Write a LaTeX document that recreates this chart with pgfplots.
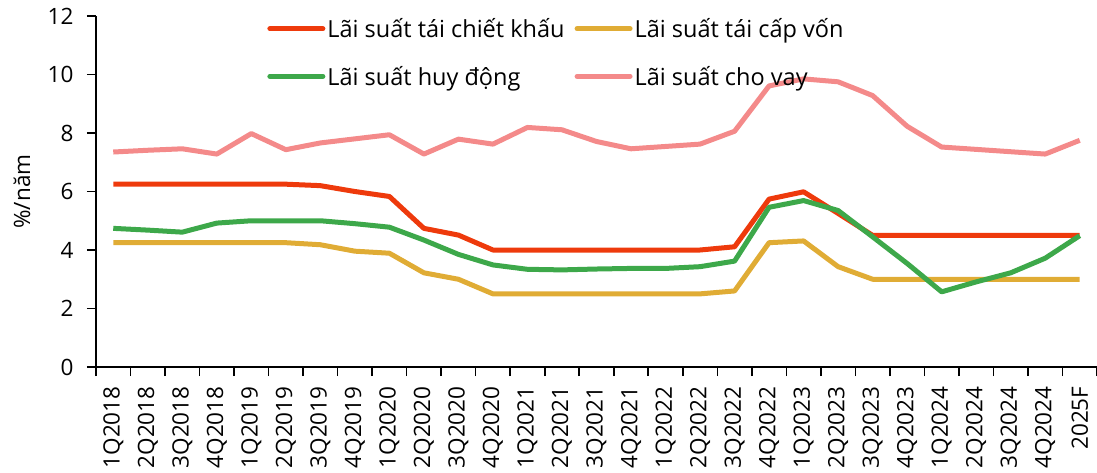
\documentclass[border=0pt]{standalone}
\usepackage{pgfplots}
\pgfplotsset{compat=1.18}
\usepackage{fontspec}
\setmainfont{Open Sans}
\definecolor{cred}{HTML}{EE3A0C}
\definecolor{cyel}{HTML}{E0AC35}
\definecolor{cgrn}{HTML}{3DA84A}
\definecolor{cpnk}{HTML}{F48A8A}
\begin{document}
\begin{tikzpicture}
\useasboundingbox (-96pt,-105pt) rectangle (1001pt,367pt);
\begin{axis}[
  scale only axis,
  width=1001pt, height=351pt,
  xmin=-0.5, xmax=28.5, ymin=0, ymax=12,
  axis x line*=bottom, axis y line*=left,
  axis line style={line width=1.6pt,-},
  ytick={0,2,...,12},
  xtick={0,...,28},
  xticklabels={1Q2018,2Q2018,3Q2018,4Q2018,1Q2019,2Q2019,3Q2019,4Q2019,1Q2020,2Q2020,3Q2020,4Q2020,1Q2021,2Q2021,3Q2021,4Q2021,1Q2022,2Q2022,3Q2022,4Q2022,1Q2023,2Q2023,3Q2023,4Q2023,1Q2024,2Q2024,3Q2024,4Q2024,2025F},
  minor xtick={-0.5,0.5,...,28.5},
  tick align=outside,
  major x tick style={draw=none},
  minor tick length=9pt, major tick length=9pt,
  tick style={line width=1.6pt, black},
  x tick label style={rotate=90, anchor=east, xshift=-7pt, font=\fontsize{22.5}{26}\selectfont},
  y tick label style={xshift=-10pt, font=\fontsize{22.5}{26}\selectfont},
  /pgf/number format/assume math mode=true,
  ylabel={\%/năm},
  ylabel style={at={(axis description cs:-0.074,0.5)}, anchor=center, font=\fontsize{22.5}{26}\selectfont},
  legend columns=2,
  legend cell align=left,
  legend style={draw=none, fill=none, at={(0.168,1.005)}, anchor=north west,
    font=\fontsize{23.5}{27}\selectfont,
    /tikz/every even column/.append style={column sep=8pt},
    row sep=23pt},
  legend image code/.code={\draw[#1, line cap=round] (0pt,0pt) -- (53pt,0pt);},
  every axis plot/.append style={line width=5pt, line join=round},
]
\addplot[cred] coordinates {(0,6.25)(1,6.25)(2,6.25)(3,6.25)(4,6.25)(5,6.25)(6,6.2)(7,6.0)(8,5.83)(9,4.74)(10,4.51)(11,4.0)(12,4.0)(13,4.0)(14,4.0)(15,4.0)(16,4.0)(17,4.0)(18,4.11)(19,5.74)(20,5.99)(21,5.25)(22,4.5)(23,4.5)(24,4.5)(25,4.5)(26,4.5)(27,4.5)(28,4.5)};
\addlegendentry{Lãi suất tái chiết khấu}
\addplot[cyel] coordinates {(0,4.25)(1,4.25)(2,4.25)(3,4.25)(4,4.25)(5,4.25)(6,4.18)(7,3.96)(8,3.89)(9,3.22)(10,3.0)(11,2.5)(12,2.5)(13,2.5)(14,2.5)(15,2.5)(16,2.5)(17,2.5)(18,2.6)(19,4.25)(20,4.31)(21,3.43)(22,3.0)(23,3.0)(24,3.0)(25,3.0)(26,3.0)(27,3.0)(28,3.0)};
\addlegendentry{Lãi suất tái cấp vốn}
\addplot[cgrn] coordinates {(0,4.74)(1,4.68)(2,4.61)(3,4.92)(4,5.0)(5,5.0)(6,5.0)(7,4.9)(8,4.78)(9,4.34)(10,3.85)(11,3.49)(12,3.34)(13,3.32)(14,3.35)(15,3.37)(16,3.37)(17,3.43)(18,3.62)(19,5.46)(20,5.69)(21,5.35)(22,4.45)(23,3.54)(24,2.57)(25,2.91)(26,3.22)(27,3.72)(28,4.49)};
\addlegendentry{Lãi suất huy động}
\addplot[cpnk] coordinates {(0,7.35)(1,7.41)(2,7.46)(3,7.28)(4,7.98)(5,7.43)(6,7.66)(7,7.8)(8,7.94)(9,7.28)(10,7.79)(11,7.62)(12,8.19)(13,8.11)(14,7.71)(15,7.46)(16,7.54)(17,7.62)(18,8.06)(19,9.61)(20,9.85)(21,9.75)(22,9.28)(23,8.23)(24,7.52)(25,7.44)(26,7.36)(27,7.28)(28,7.75)};
\addlegendentry{Lãi suất cho vay}
\end{axis}
\end{tikzpicture}
\end{document}
